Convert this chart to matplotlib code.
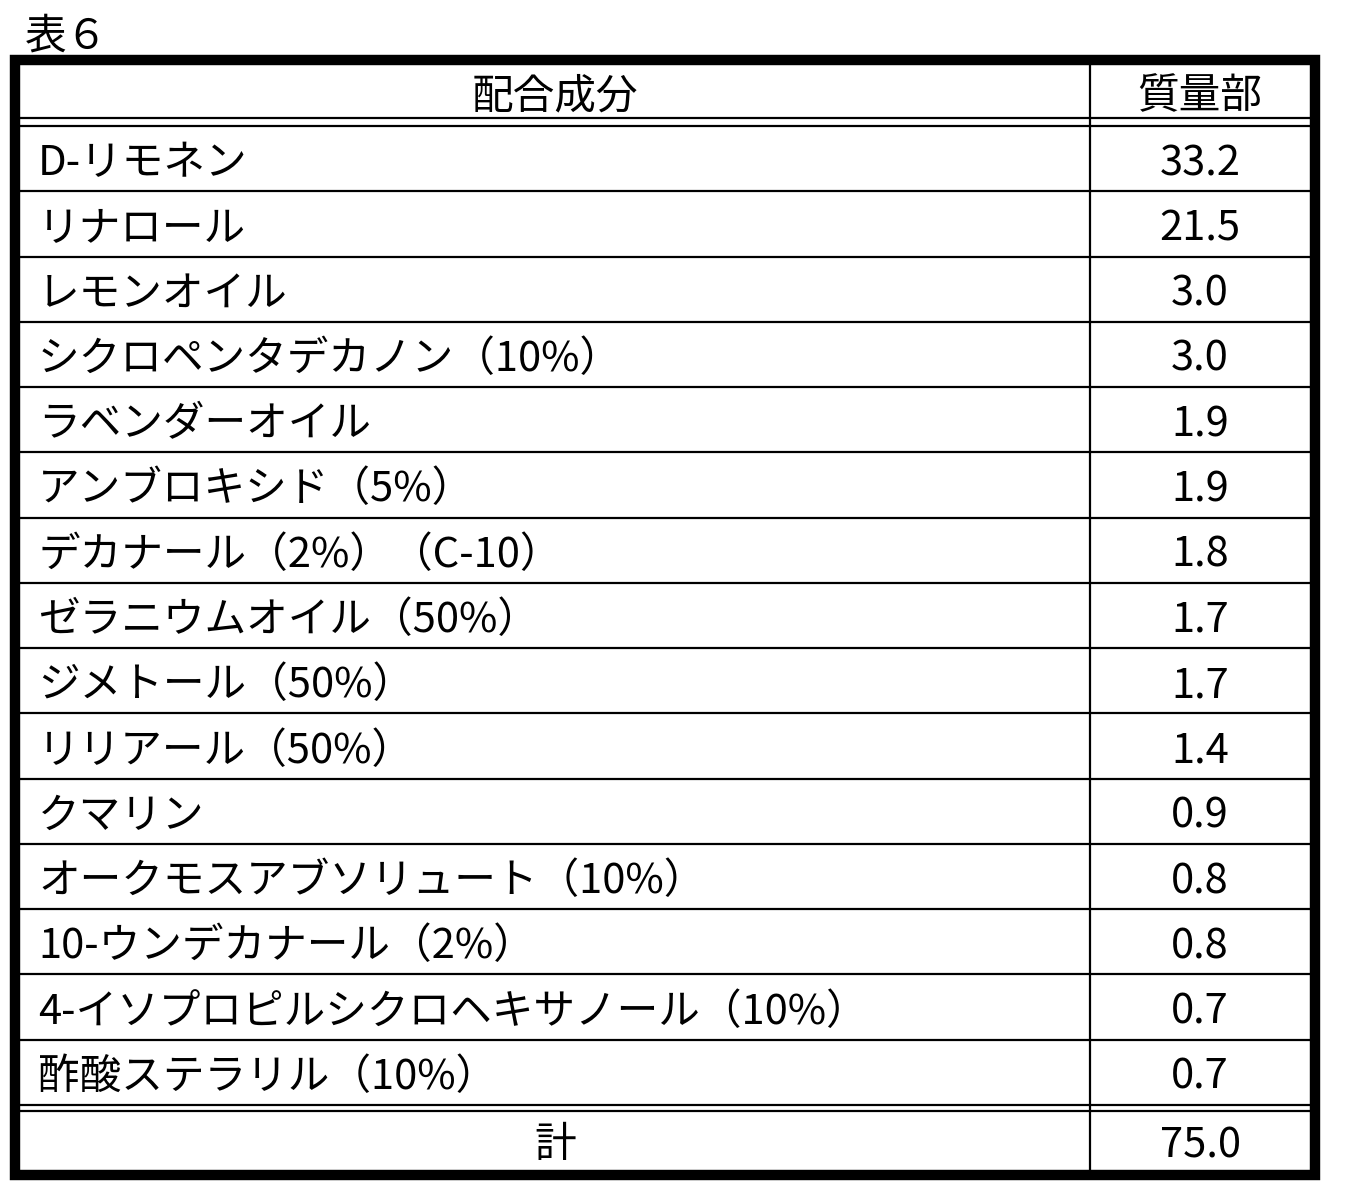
import matplotlib
matplotlib.use("Agg")
import matplotlib.pyplot as plt

plt.rcParams['font.family'] = ['Noto Sans CJK JP', 'DejaVu Sans']

title = "表６"
headers = ["配合成分", "質量部"]
ingredients = ["D-リモネン", "リナロール", "レモンオイル", "シクロペンタデカノン（10%）",
               "ラベンダーオイル", "アンブロキシド（5%）", "デカナール（2%）（C-10）",
               "ゼラニウムオイル（50%）", "ジメトール（50%）", "リリアール（50%）", "クマリン",
               "オークモスアブソリュート（10%）", "10-ウンデカナール（2%）",
               "4-イソプロピルシクロヘキサノール（10%）", "酢酸ステラリル（10%）"]
values = ["33.2", "21.5", "3.0", "3.0", "1.9", "1.9", "1.8", "1.7", "1.7", "1.4",
          "0.9", "0.8", "0.8", "0.7", "0.7"]
total_label = "計"
total_value = "75.0"

W, H = 1358, 1189
fig = plt.figure(figsize=(W/100, H/100), dpi=100)
ax = fig.add_axes([0, 0, 1, 1])
ax.set_xlim(0, W); ax.set_ylim(H, 0); ax.axis('off')

L, R, T, B = 20, 1310, 65, 1170
colx = 1090
hdr_b1, hdr_b2 = 118, 126
tot_t1, tot_t2 = 1105, 1111
n = len(ingredients)
rh = (tot_t1 - hdr_b2) / n
FS = 30
dy = 5

ax.add_patch(plt.Rectangle((L-5, T-5), R-L+10, B-T+10, fill=False, lw=7.5, ec='black'))
lw = 1.6
for y in (hdr_b1, hdr_b2, tot_t1, tot_t2):
    ax.plot([L, R], [y, y], color='black', lw=lw)
for i in range(1, n):
    y = hdr_b2 + i*rh
    ax.plot([L, R], [y, y], color='black', lw=lw)
ax.plot([colx, colx], [T, B], color='black', lw=lw)

ax.text(25, 37, title, fontsize=FS, va='center', ha='left')
ax.text((L+colx)/2, (T+hdr_b1)/2+dy, headers[0], fontsize=FS, ha='center', va='center')
ax.text((colx+R)/2, (T+hdr_b1)/2+dy, headers[1], fontsize=FS, ha='center', va='center')
for i, (name, v) in enumerate(zip(ingredients, values)):
    yc = hdr_b2 + (i+0.5)*rh + dy
    ax.text(38, yc, name, fontsize=FS, ha='left', va='center')
    ax.text((colx+R)/2, yc, v, fontsize=FS, ha='center', va='center')
yc = (tot_t2+B)/2 + dy
ax.text((L+colx)/2, yc, total_label, fontsize=FS, ha='center', va='center')
ax.text((colx+R)/2, yc, total_value, fontsize=FS, ha='center', va='center')

fig.savefig("out.png", dpi=100, facecolor='white')
